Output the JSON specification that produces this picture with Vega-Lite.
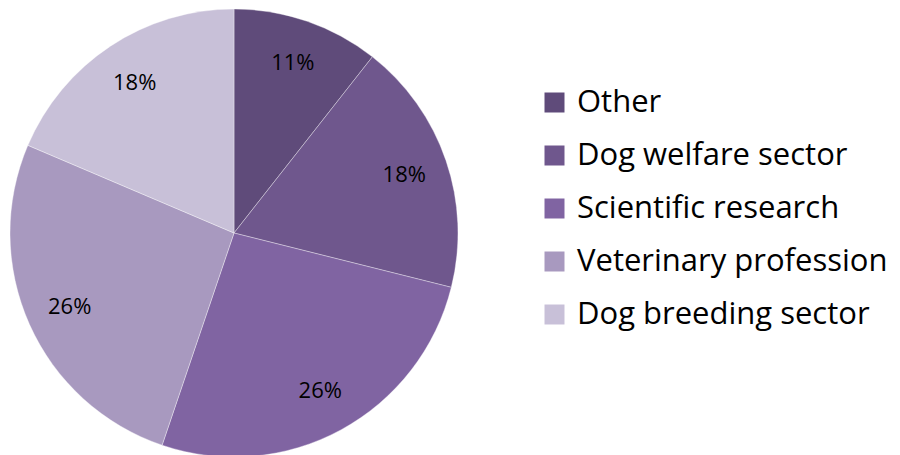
{
  "$schema": "https://vega.github.io/schema/vega-lite/v6.json",
  "width": 448,
  "height": 448,
  "padding": {"left": 10, "top": 9, "right": 442, "bottom": 0},
  "autosize": {"type": "none"},
  "background": "white",
  "view": {"stroke": null},
  "data": {
    "values": [
      {"category": "Other", "value": 10.6, "label": "11%", "idx": 1},
      {"category": "Dog welfare sector", "value": 18.3, "label": "18%", "idx": 2},
      {"category": "Scientific research", "value": 26.3, "label": "26%", "idx": 3},
      {"category": "Veterinary profession", "value": 26.2, "label": "26%", "idx": 4},
      {"category": "Dog breeding sector", "value": 18.6, "label": "18%", "idx": 5}
    ]
  },
  "encoding": {
    "theta": {"field": "value", "type": "quantitative", "stack": true},
    "order": {"field": "idx", "type": "quantitative", "sort": "ascending"},
    "color": {
      "field": "category",
      "type": "nominal",
      "scale": {
        "domain": ["Other", "Dog welfare sector", "Scientific research", "Veterinary profession", "Dog breeding sector"],
        "range": ["#5F4B7A", "#6F578D", "#8064A2", "#A899BF", "#C8C0D8"]
      },
      "legend": {
        "title": null,
        "orient": "none",
        "legendX": 529,
        "legendY": 78,
        "symbolType": "square",
        "symbolSize": 400,
        "symbolStrokeWidth": 0,
        "labelFontSize": 31,
        "labelFont": "Open Sans",
        "labelColor": "black",
        "labelOffset": 7,
        "rowPadding": 21,
        "labelLimit": 400
      }
    }
  },
  "layer": [
    {"mark": {"type": "arc", "outerRadius": 224, "stroke": "#ffffff", "strokeWidth": 0.6, "strokeOpacity": 0.6}},
    {
      "mark": {"type": "text", "radius": 180, "fontSize": 22, "font": "Open Sans", "color": "black"},
      "encoding": {"text": {"field": "label", "type": "nominal"}, "color": {"value": "black"}}
    }
  ]
}
